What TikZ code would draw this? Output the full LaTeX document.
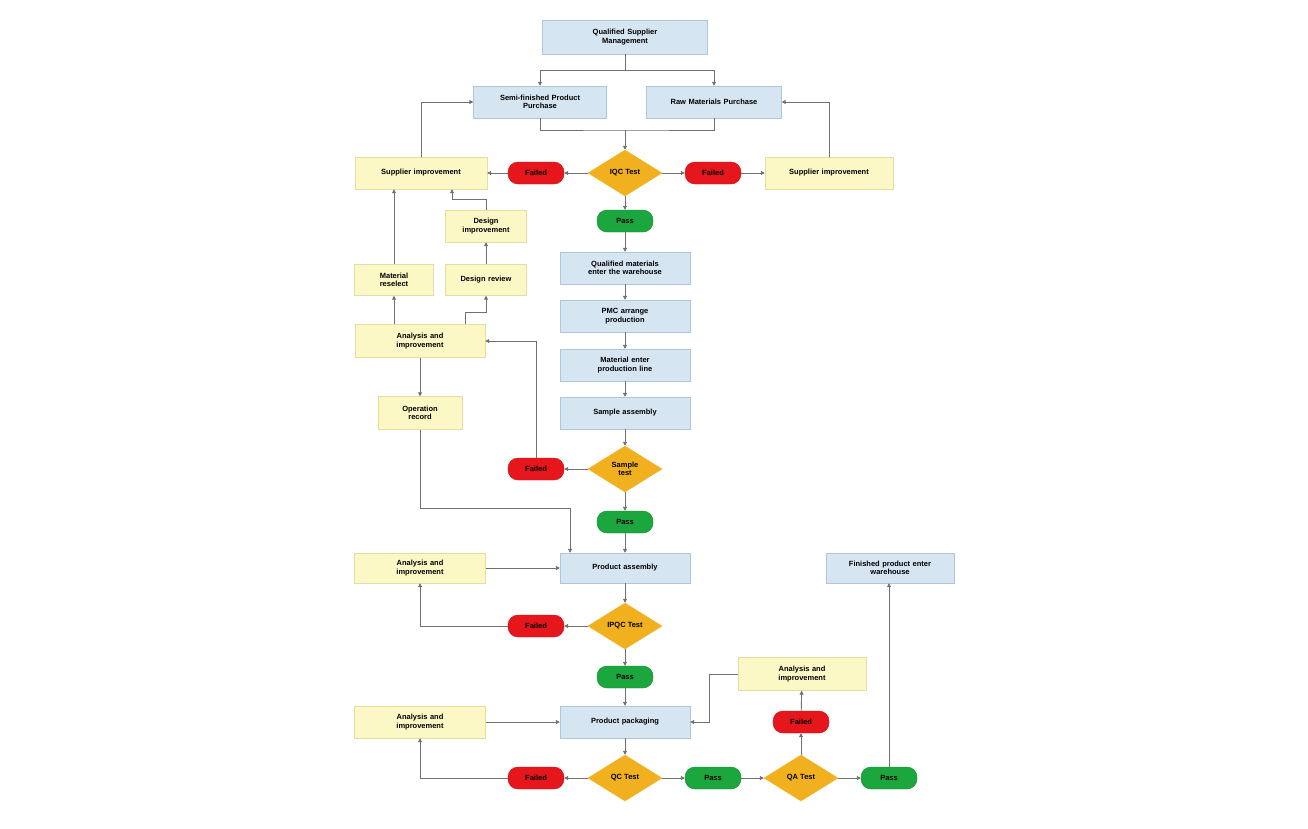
\documentclass[tikz,border=0pt]{standalone}
\usepackage{fontspec}
\setmainfont{Liberation Sans}
\usetikzlibrary{shapes.geometric,arrows.meta}
\definecolor{bluef}{HTML}{D6E5F2}
\definecolor{blueb}{HTML}{AFC7DC}
\definecolor{yelf}{HTML}{FCF8C6}
\definecolor{yelb}{HTML}{E6DEA0}
\definecolor{redf}{HTML}{E5161C}
\definecolor{redb}{HTML}{C81015}
\definecolor{grnf}{HTML}{1CA63E}
\definecolor{grnb}{HTML}{138A30}
\definecolor{gldf}{HTML}{F1B11F}
\definecolor{linec}{HTML}{707070}
\begin{document}
\begin{tikzpicture}[x=1pt,y=-1pt,
  font=\fontsize{7.5}{8.6}\selectfont\bfseries,
  bluebox/.style={draw=blueb,fill=bluef,minimum width=130pt,minimum height=32pt,align=center,text width=120pt,inner sep=2pt},
  yelbox/.style={draw=yelb,fill=yelf,minimum width=130pt,minimum height=32pt,align=center,text width=120pt,inner sep=2pt},
  failbox/.style={draw=redb,fill=redf,rounded corners=10pt,minimum width=56pt,minimum height=22pt,inner sep=1pt},
  passbox/.style={draw=grnb,fill=grnf,rounded corners=10pt,minimum width=56pt,minimum height=22pt,inner sep=1pt},
  testdia/.style={diamond,draw=gldf,fill=gldf,minimum width=74pt,minimum height=46pt,inner sep=0pt,align=center,aspect=1.6},
  conn/.style={draw=linec,line width=0.9pt},
  arr/.style={conn,-{Triangle[width=4pt,length=4pt]}}]
\useasboundingbox (0,0) rectangle (1308,828);
\fill[white] (0,0) rectangle (1308,828);

% main column
\node[bluebox,minimum width=165pt,minimum height=34pt] (top) at (625,37) {Qualified Supplier\\Management};
\node[bluebox,minimum width=133pt] (semi) at (540,102) {Semi-finished Product\\Purchase};
\node[bluebox,minimum width=135pt] (raw) at (714,102) {Raw Materials Purchase};
\node[testdia] (iqc) at (625,173) {IQC Test};
\node[failbox] (f1) at (536,173) {Failed};
\node[failbox] (f1r) at (713,173) {Failed};
\node[yelbox,minimum width=132pt] (supL) at (421,173) {Supplier improvement};
\node[yelbox,minimum width=128pt] (supR) at (829,173) {Supplier improvement};
\node[passbox] (p1) at (625,221) {Pass};
\node[bluebox] (qual) at (625,268) {Qualified materials\\enter the warehouse};
\node[bluebox] (pmc) at (625,316) {PMC arrange\\production};
\node[bluebox] (mat) at (625,365) {Material enter\\production line};
\node[bluebox] (sasm) at (625,413) {Sample assembly};
\node[testdia] (stest) at (625,469) {Sample\\test};
\node[failbox] (f2) at (536,469) {Failed};
\node[passbox] (p2) at (625,522) {Pass};
\node[bluebox,minimum height=30pt] (pasm) at (625,568) {Product assembly};
\node[testdia] (ipqc) at (625,626) {IPQC Test};
\node[failbox] (f3) at (536,626) {Failed};
\node[passbox] (p3) at (625,677) {Pass};
\node[bluebox] (ppack) at (625,722) {Product packaging};
\node[testdia] (qc) at (625,778) {QC Test};
\node[failbox] (f4) at (536,778) {Failed};
\node[passbox] (p4) at (713,778) {Pass};
\node[testdia] (qa) at (801,778) {QA Test};
\node[passbox] (p5) at (889,778) {Pass};
\node[failbox] (f5) at (801,722) {Failed};
\node[yelbox,minimum width=128pt,minimum height=33pt] (an4) at (802,674) {Analysis and\\improvement};
\node[bluebox,minimum width=128pt,minimum height=30pt] (fin) at (890,568) {Finished product enter\\warehouse};

% left column
\node[yelbox,minimum width=81pt,text width=76pt] (desimp) at (486,226) {Design\\improvement};
\node[yelbox,minimum width=79pt,minimum height=31pt,text width=74pt] (matre) at (394,280) {Material\\reselect};
\node[yelbox,minimum width=81pt,minimum height=31pt,text width=76pt] (desrev) at (486,280) {Design review};
\node[yelbox,minimum width=130pt,minimum height=33pt] (an1) at (420,341) {Analysis and\\improvement};
\node[yelbox,minimum width=84pt,minimum height=33pt,text width=78pt] (oprec) at (420,413) {Operation\\record};
\node[yelbox,minimum width=131pt,minimum height=30pt] (an2) at (420,568) {Analysis and\\improvement};
\node[yelbox,minimum width=131pt] (an3) at (420,722) {Analysis and\\improvement};

% connectors: top
\draw[arr] (top.south) -- ++(0,16) -| (semi.north);
\draw[arr] (top.south) -- ++(0,16) -| (raw.north);
\coordinate (busB) at (625,130);
\draw[conn] (semi.south) |- (busB) -| (raw.south);
\draw[arr] (busB) -- (iqc.north);
\draw[arr] (iqc) -- (f1);
\draw[arr] (f1) -- (supL);
\draw[arr] (iqc) -- (f1r);
\draw[arr] (f1r) -- (supR);
\draw[arr] (supL.north) |- (semi.west);
\draw[arr] (supR.north) |- (raw.east);

% main chain
\draw[arr] (iqc) -- (p1);
\draw[arr] (p1) -- (qual);
\draw[arr] (qual) -- (pmc);
\draw[arr] (pmc) -- (mat);
\draw[arr] (mat) -- (sasm);
\draw[arr] (sasm) -- (stest);
\draw[arr] (stest) -- (f2);
\draw[arr] (stest) -- (p2);
\draw[arr] (p2) -- (pasm);
\draw[arr] (pasm) -- (ipqc);
\draw[arr] (ipqc) -- (f3);
\draw[arr] (ipqc) -- (p3);
\draw[arr] (p3) -- (ppack);
\draw[arr] (ppack) -- (qc);
\draw[arr] (qc) -- (f4);
\draw[arr] (qc) -- (p4);
\draw[arr] (p4) -- (qa);
\draw[arr] (qa) -- (p5);
\draw[arr] (qa) -- (f5);
\draw[arr] (f5) -- (an4);
\draw[arr] (p5.north) -- (p5.north |- fin.south);
\draw[arr] (an4.west) -- ++(-28,0) |- (ppack.east);

% left cluster
\draw[arr] (f2.north) |- (an1.east);
\draw[arr] (matre.south |- an1.north) -- (matre.south);
\draw[arr] (matre.north) -- (matre.north |- supL.south);
\draw[arr] ([xshift=45pt]an1.north) -- ++(0,-12) -| (desrev.south);
\draw[arr] (desrev) -- (desimp);
\draw[arr] (desimp.north) -- ++(0,-10) -| ([xshift=31pt]supL.south);
\draw[arr] (an1.south -| oprec.north) -- (oprec.north);
\draw[arr] (oprec.south) -- ++(0,79) -| ([xshift=-55pt]pasm.north);
\draw[arr] (an2) -- (pasm);
\draw[arr] (f3.west) -| (an2.south);
\draw[arr] (an3) -- (ppack);
\draw[arr] (f4.west) -| (an3.south);
\end{tikzpicture}
\end{document}
